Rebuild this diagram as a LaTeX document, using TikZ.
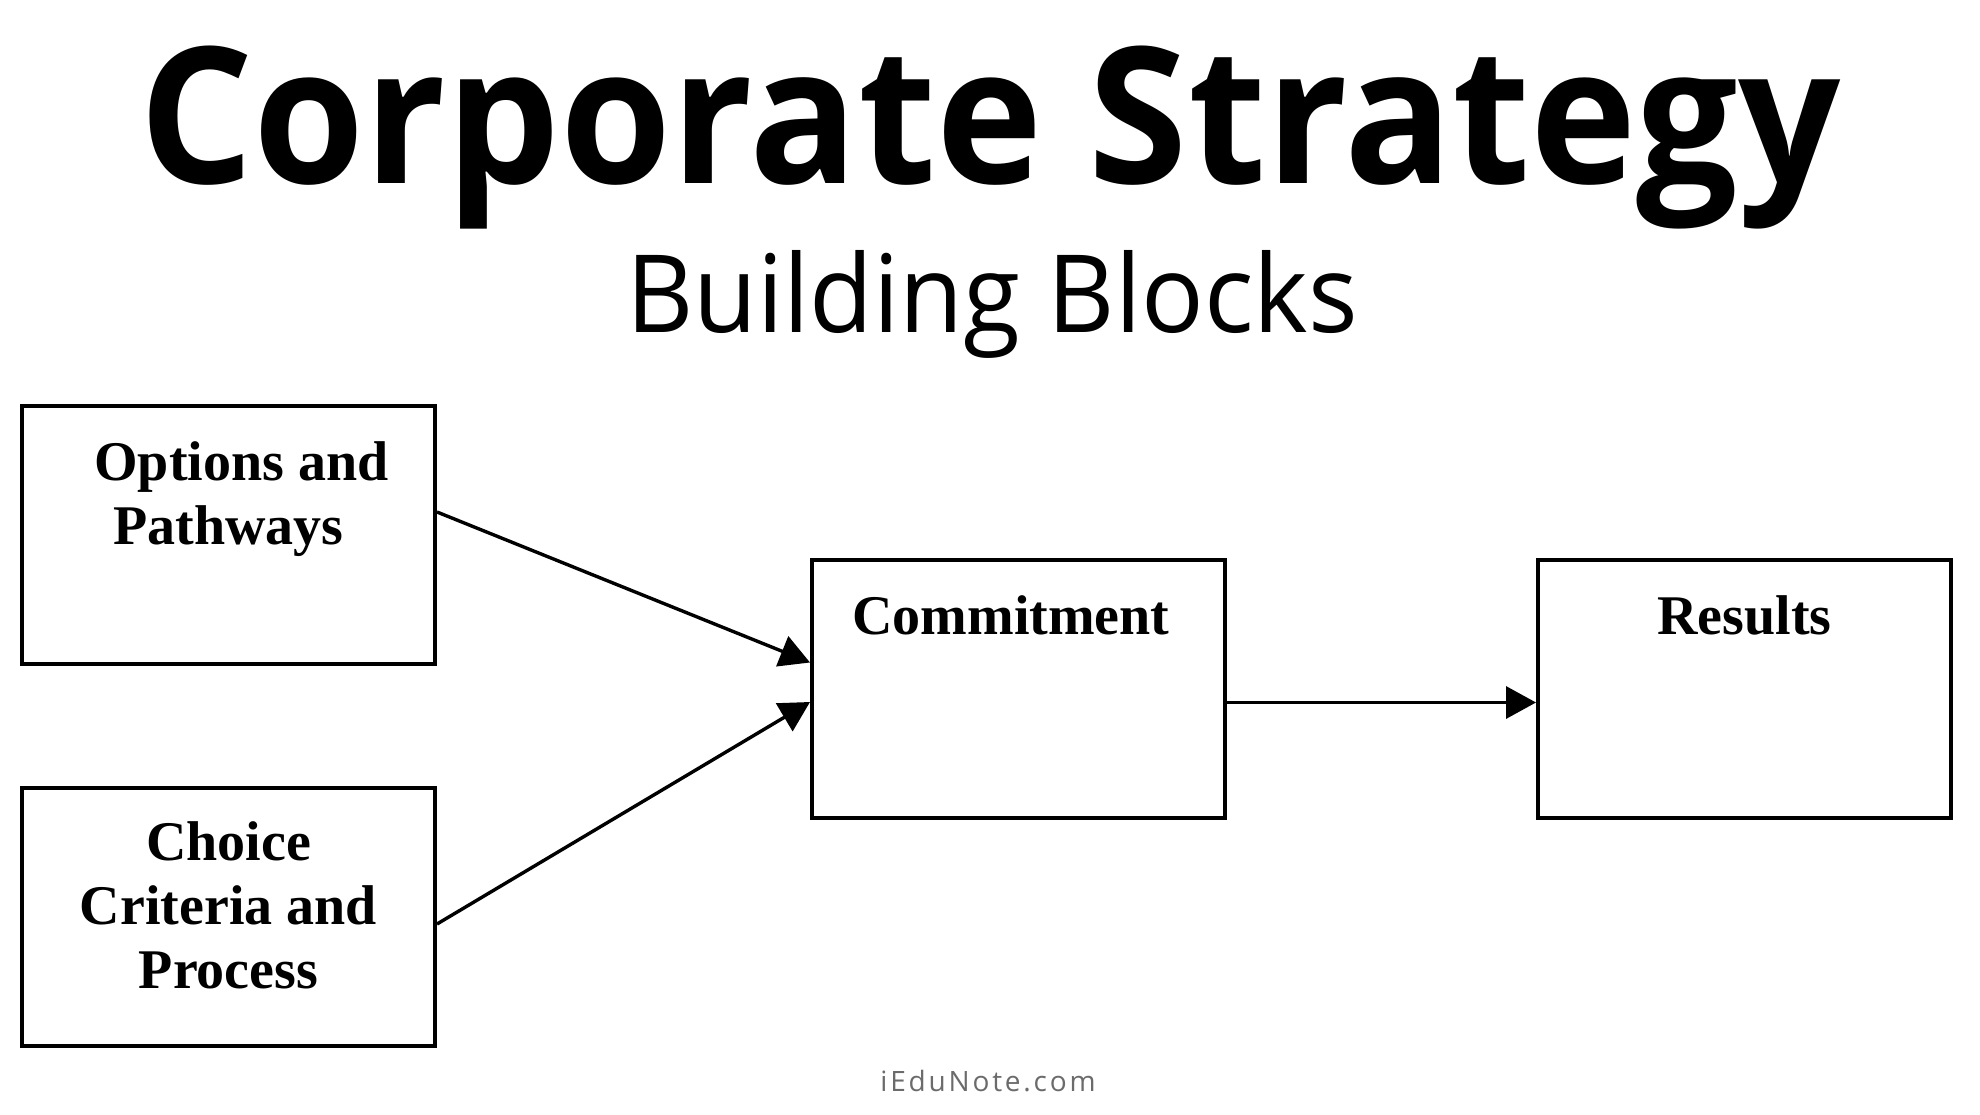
\documentclass[tikz,border=0pt]{standalone}
\usepackage{fontspec}
\setmainfont{Liberation Serif}
\newfontfamily\titlefont[FakeStretch=0.946]{Open Sans}
\newfontfamily\subfont[FakeStretch=0.963]{Open Sans}
\newfontfamily\footfont[LetterSpace=10]{Open Sans}
\usetikzlibrary{arrows.meta,calc}
\definecolor{footgray}{HTML}{6B6B6B}
\begin{document}
\begin{tikzpicture}[x=0.5pt,y=-0.5pt,
  boxnode/.style={draw, line width=2pt, minimum width=206.5pt, minimum height=129pt, inner sep=0pt},
  lbl/.style={font=\fontsize{28}{32}\selectfont\bfseries, align=center, inner sep=0pt, anchor=base},
  conn/.style={line width=1.7pt, -{Triangle[length=15pt,width=16pt]}}]
\useasboundingbox[fill=white] (0,0) rectangle (1980,1114);
% titles
\node[font=\titlefont\bfseries\fontsize{95}{100}\selectfont, anchor=base, inner sep=0pt] (title) at (990,183) {Corporate Strategy};
\node[font=\subfont\fontsize{54}{60}\selectfont, anchor=base, inner sep=0pt] (subtitle) at (992,332) {Building Blocks};
% boxes
\node[boxnode] (b1) at (228.5,535) {};
\node[boxnode] (b2) at (228.5,916.5) {};
\node[boxnode] (b3) at (1018.5,688.5) {};
\node[boxnode] (b4) at (1744.5,688.5) {};
% labels (base = baseline of last line)
\node[lbl] (l1) at (228.5,544) {\hspace*{13pt}Options and\\Pathways};
\node[lbl] (l2) at (228.5,988) {Choice\\Criteria and\\Process};
\node[lbl] (l3) at (1011,634.5) {Commitment};
\node[lbl] (l4) at (1744.5,634.5) {Results};
% connectors
\draw[conn] ($(b1.east)+(0,-23)$) -- ($(b3.west)+(0,-26)$);
\draw[conn] ($(b2.east)+(0,7.5)$) -- ($(b3.west)+(0,13.5)$);
\draw[conn] ($(b3.east)+(0,14)$) -- ($(b4.west)+(0,14)$);
% footer
\node[font=\footfont\fontsize{14}{16}\selectfont, text=footgray, anchor=base, inner sep=0pt] (foot) at (988,1091) {iEduNote.com};
\end{tikzpicture}
\end{document}
